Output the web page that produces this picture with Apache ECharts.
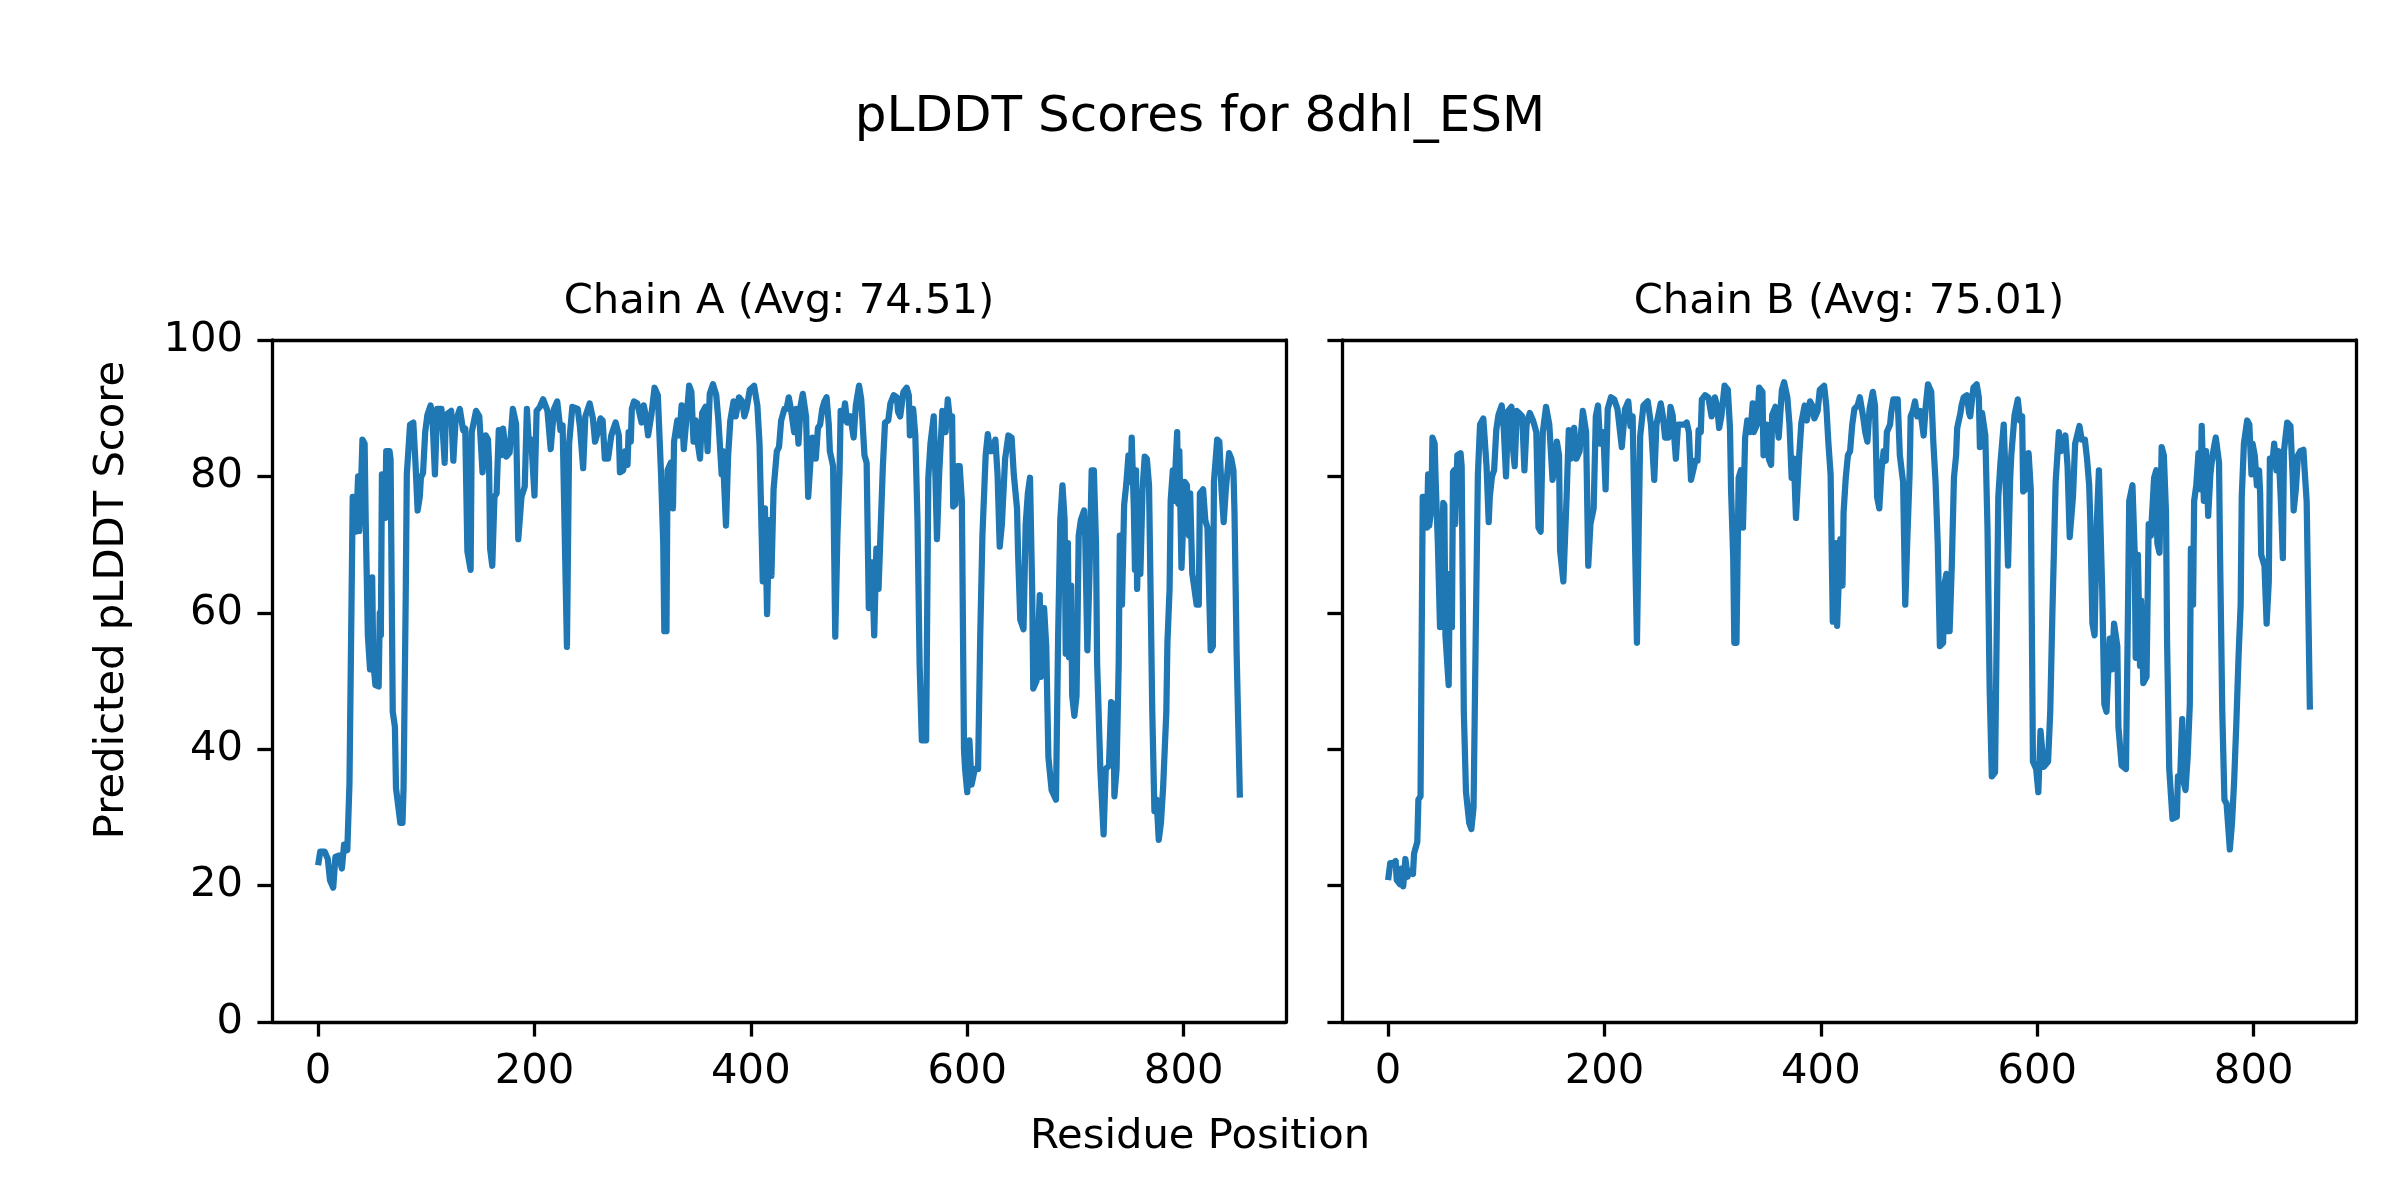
<!DOCTYPE html>
<html>
<head>
<meta charset="utf-8">
<script src="https://cdn.jsdelivr.net/npm/echarts@6/dist/echarts.min.js"></script>
<style>html,body{margin:0;padding:0;background:#fff;}#c{width:2400px;height:1200px;}</style>
</head>
<body>
<div id="c"></div>
<script>
// ---- data ----
const suptitle = "pLDDT Scores for 8dhl_ESM";
const chainNames = ["Chain A", "Chain B"];
const chainAvgs = ["74.51", "75.01"];
const xLabel = "Residue Position";
const yLabel = "Predicted pLDDT Score";
const xTicks = [0, 200, 400, 600, 800];
const yTicks = [0, 20, 40, 60, 80, 100];

const chainAPos = [0,2,6,9,11,14,16,19,22,24,27,29,30,32,34,35,37,38,39,41,43,44,46,48,50,51,53,56,57,58,59,60,62,63,66,67,69,71,72,76,78,79,81,82,85,88,90,92,94,95,97,99,101,104,106,108,110,114,117,118,123,125,127,131,134,136,138,141,142,146,149,152,155,157,158,159,161,163,165,167,169,171,174,177,180,183,185,188,191,193,195,197,200,202,205,208,212,215,218,221,224,226,230,232,235,240,242,245,247,251,254,256,258,261,263,265,268,271,272,275,278,279,282,284,286,287,289,290,292,295,299,301,303,305,308,311,314,317,319,320,322,323,326,328,329,332,334,336,338,340,343,345,347,349,351,353,355,358,360,362,365,368,370,373,374,377,379,381,384,386,389,392,394,396,399,403,406,408,411,413,415,417,419,421,424,426,428,431,433,435,437,440,442,444,446,448,451,453,455,457,460,462,464,466,468,470,472,473,476,478,480,482,483,485,487,489,492,495,497,500,502,505,507,509,512,514,516,518,519,522,524,527,529,532,535,536,538,541,544,546,547,550,552,554,556,558,562,564,566,569,570,572,574,577,580,582,584,586,587,589,591,593,595,597,598,600,602,604,607,610,612,614,617,619,621,623,626,628,630,632,635,638,641,643,646,647,649,652,654,656,658,660,661,664,667,668,671,673,675,678,682,684,686,688,690,691,693,694,696,697,699,701,703,705,708,709,711,713,715,717,719,720,723,726,728,731,733,735,736,738,740,741,743,745,747,749,751,752,754,755,756,757,759,760,762,764,766,768,769,771,773,775,777,779,781,784,785,787,788,790,791,794,795,796,798,801,803,805,806,808,809,812,814,815,818,820,822,825,827,828,831,833,835,837,839,842,844,846,847,849,852];
const chainAScore = [23.0,25.0,25.0,23.9,20.8,19.7,24.2,24.4,22.5,26.0,25.2,35.0,34.8,77.0,77.0,71.9,80.0,72.0,75.0,85.4,84.8,73.6,56.7,51.7,65.2,52.8,49.4,49.2,60.0,56.7,80.3,80.5,73.9,83.7,83.7,82.5,45.5,43.3,34.3,29.2,29.2,34.3,62.4,80.3,87.6,87.9,82.0,75.0,77.0,79.8,80.5,86.5,89.0,90.4,87.5,80.3,89.9,89.9,82.0,89.0,89.6,82.3,88.0,89.9,86.8,87.0,69.0,66.3,86.5,89.6,88.8,80.6,86.0,85.4,82.0,69.4,66.9,77.0,77.5,86.8,83.1,87.0,82.9,83.5,89.9,87.7,70.8,77.0,78.5,89.9,84.3,85.4,77.2,89.6,90.2,91.3,89.6,84.0,89.9,91.0,86.8,87.5,55.0,84.8,90.2,89.9,87.3,81.2,88.8,90.7,88.5,85.1,86.2,88.5,88.2,82.6,82.6,86.0,86.5,87.9,86.0,80.6,80.9,83.7,81.7,86.5,85.1,89.9,91.0,90.7,87.9,90.4,88.8,86.0,89.0,93.0,91.9,80.3,70.2,57.3,57.3,80.9,82.0,75.3,85.1,88.2,86.0,90.4,84.0,87.6,93.3,92.4,85.1,88.2,84.8,82.6,89.3,90.2,83.7,92.1,93.5,91.9,88.2,80.3,83.7,72.8,83.1,88.2,91.0,88.8,91.6,91.0,88.8,89.9,92.7,93.3,90.4,84.8,64.6,75.3,59.8,73.6,65.4,78.1,83.7,84.3,88.2,89.9,89.9,91.6,89.9,86.5,89.9,84.8,90.4,92.1,88.8,77.0,82.0,85.7,82.6,87.1,87.6,89.9,91.0,91.6,87.6,83.7,81.5,56.5,71.3,80.9,89.6,88.2,90.7,87.9,88.8,85.7,90.4,93.3,91.3,83.1,82.0,60.7,67.4,56.7,69.4,63.5,63.5,81.5,87.9,88.2,90.7,91.9,91.6,89.5,88.8,92.4,93.0,91.9,86.0,89.9,86.0,73.6,52.2,41.3,41.3,79.8,84.8,88.8,83.7,70.8,80.3,89.6,86.5,91.3,88.2,88.8,75.6,75.9,81.5,81.5,76.4,39.9,37.1,33.7,41.3,34.8,37.1,37.1,56.7,71.3,83.1,86.2,83.7,83.7,85.4,80.3,69.7,73.0,82.6,86.0,85.7,80.3,75.3,68.5,59.0,57.6,73.0,77.5,79.8,63.5,48.9,50.0,62.6,50.6,60.7,55.1,38.8,34.0,32.6,56.7,73.6,78.7,73.6,54.0,70.2,53.5,64.0,47.8,44.9,47.8,71.3,73.6,75.0,71.3,54.5,66.0,80.9,80.9,70.2,52.8,37.1,27.5,37.1,37.6,46.9,46.6,33.1,37.1,52.8,71.3,61.2,75.8,78.9,83.1,79.2,85.7,75.0,66.3,80.9,63.5,76.4,65.7,78.1,82.9,82.6,78.7,68.0,45.5,30.9,32.6,26.7,29.2,34.3,45.5,55.6,63.5,76.4,80.9,76.4,86.5,76.0,83.7,66.6,79.2,78.7,71.3,77.5,65.7,64.6,61.2,61.2,77.5,78.1,73.6,72.5,54.5,55.1,79.2,85.4,85.1,78.1,73.3,78.1,83.4,82.6,80.9,74.7,53.9,32.9];

const chainBPos = [0,2,5,7,8,11,12,14,16,18,20,23,24,27,28,30,32,34,36,37,38,40,41,43,44,46,48,49,51,52,53,56,57,59,60,61,62,64,67,68,70,72,75,77,79,81,83,85,88,91,93,94,96,98,100,102,105,107,109,111,114,115,117,119,121,124,126,128,131,134,137,139,141,143,146,149,152,154,156,158,159,162,165,167,169,172,174,177,180,183,185,187,190,192,194,196,199,201,203,206,209,212,216,219,222,224,226,230,233,236,240,243,246,248,252,254,256,259,261,263,266,268,271,274,276,278,280,282,284,286,287,289,290,293,296,299,302,304,306,308,311,314,316,317,319,320,322,324,326,328,330,332,335,337,338,341,343,346,347,350,352,354,355,358,361,364,366,369,371,373,375,377,380,382,385,387,390,392,394,397,399,403,405,407,409,411,414,415,418,420,421,423,425,427,429,431,434,436,439,441,443,445,448,450,452,454,456,458,460,461,464,465,467,471,473,476,478,480,482,483,485,487,489,492,495,497,499,502,504,506,508,510,513,514,516,517,519,521,523,525,526,529,530,532,535,537,538,541,544,546,547,549,552,554,556,558,561,564,566,569,570,573,575,576,579,582,584,586,587,589,592,594,596,599,601,603,606,610,612,614,617,620,622,626,628,630,633,635,639,641,644,646,648,649,651,653,655,657,660,662,664,667,669,671,674,675,678,682,684,685,688,690,691,693,695,696,698,701,703,705,708,710,711,713,715,717,719,720,722,725,729,730,732,734,735,737,739,741,742,744,745,747,749,751,752,754,756,758,760,762,765,768,769,771,773,775,778,780,782,784,786,788,789,791,794,796,798,799,801,803,805,806,807,810,812,814,815,817,819,821,823,825,827,828,831,834,836,837,839,841,843,846,847,849,852];
const chainBScore = [20.8,23.3,23.3,23.6,20.8,20.2,22.5,19.9,23.9,21.3,22.2,21.7,24.7,26.4,32.6,33.1,77.0,77.0,72.5,80.3,72.8,75.3,85.7,84.8,79.2,70.2,57.9,57.9,76.1,75.8,56.7,49.4,65.7,57.9,80.6,80.9,73.0,83.1,83.4,81.5,45.5,33.7,29.2,28.3,31.5,56.7,80.3,87.6,88.5,81.5,73.3,77.0,80.0,80.9,86.8,89.0,90.4,86.8,80.0,89.6,90.2,84.8,81.5,89.6,89.3,88.8,80.9,87.6,89.3,88.2,86.5,72.5,71.9,86.5,90.2,87.6,79.5,81.5,85.1,83.1,69.1,64.6,77.0,86.8,82.6,87.1,82.6,83.7,89.6,86.5,66.9,73.0,75.3,88.8,90.4,84.8,86.5,78.1,89.9,91.6,91.3,89.9,84.3,89.9,91.0,87.4,88.8,55.6,85.9,90.4,91.0,87.6,79.5,87.6,90.7,88.8,85.7,85.7,90.2,89.0,82.6,87.6,87.6,87.6,87.9,86.5,79.5,80.9,82.3,82.3,86.8,86.5,91.3,91.9,91.6,88.8,91.6,90.4,87.1,88.8,93.3,92.7,87.1,78.1,68.0,55.6,55.6,79.8,80.9,72.5,85.7,88.2,86.5,90.7,86.5,87.6,93.0,92.4,83.1,87.6,82.5,81.7,89.0,90.2,85.7,92.7,93.8,91.6,87.6,79.8,82.6,73.9,83.1,87.9,90.4,88.2,91.0,90.4,88.5,89.6,92.7,93.3,90.4,84.8,80.3,58.7,70.2,58.1,70.8,64.0,74.7,79.8,83.1,83.7,87.6,89.9,90.4,91.6,88.8,86.5,85.1,89.9,92.4,90.4,77.0,75.3,80.9,83.7,82.3,86.5,87.6,89.3,91.3,91.3,83.1,79.2,61.2,71.3,80.3,88.8,89.6,91.0,88.8,89.6,86.0,90.4,93.5,92.4,84.8,79.2,70.2,55.1,55.6,64.0,65.7,57.3,57.3,66.9,79.8,83.1,87.1,89.3,90.4,91.6,91.9,89.3,88.8,93.0,93.5,91.6,84.3,89.3,86.0,72.5,48.9,36.0,36.6,77.0,82.0,87.6,83.1,66.9,79.8,83.1,89.0,91.3,88.2,88.8,77.8,78.1,83.4,78.1,38.2,37.1,33.7,42.7,37.4,38.2,45.5,60.1,79.2,86.5,83.7,86.0,81.5,71.1,77.0,84.8,87.4,85.4,85.4,82.6,78.7,73.6,58.4,56.7,73.0,80.9,63.5,46.6,45.5,56.2,51.7,58.4,55.1,43.3,37.6,37.1,62.4,76.4,78.7,69.1,53.4,68.5,52.2,61.8,49.7,50.6,73.0,71.3,79.8,80.9,70.2,68.8,84.3,83.1,74.7,55.6,37.1,29.8,30.1,36.0,35.4,44.4,35.4,34.0,38.8,46.6,69.4,61.2,76.4,78.7,83.4,78.1,87.4,76.4,83.7,74.2,80.3,83.1,85.7,82.0,68.0,45.5,32.6,32.0,25.3,29.2,35.4,43.8,53.4,61.2,77.0,84.8,88.2,87.6,80.3,84.8,83.1,78.7,80.9,77.5,68.5,66.9,58.4,64.6,82.6,81.5,84.8,80.9,83.7,77.0,68.0,83.7,87.9,87.4,80.3,75.0,78.1,83.1,83.7,83.9,81.2,76.4,45.8];

// ---- layout / style ----
const FONT = "DejaVu Sans";
const LINE_COLOR = "#1f77b4";
const AX_W = 3.3, TICK_LEN = 14.6, FS = 41.7;
const grids = [
  {left: 272, top: 340, width: 1014, height: 682},
  {left: 1342, top: 340, width: 1014, height: 682}
];
const X_MIN = -42.6, X_MAX = 894.6;

const chart = echarts.init(document.getElementById('c'), null, {renderer: 'canvas', width: 2400, height: 1200});

const lineStyleAxis = {show: true, onZero: false, lineStyle: {color: '#000', width: AX_W}};
const xAxes = [], yAxes = [];
grids.forEach((g, i) => {
  xAxes.push({
    type: 'value', gridIndex: i, position: 'bottom', min: X_MIN, max: X_MAX,
    axisLine: lineStyleAxis,
    axisTick: {show: true, length: TICK_LEN, lineStyle: {color: '#000', width: AX_W}, customValues: xTicks},
    axisLabel: {show: true, margin: 29, fontSize: FS, fontFamily: FONT, color: '#000', customValues: xTicks},
    splitLine: {show: false}
  });
  xAxes.push({
    type: 'value', gridIndex: i, position: 'top', min: X_MIN, max: X_MAX,
    axisLine: lineStyleAxis, axisTick: {show: false}, axisLabel: {show: false}, splitLine: {show: false}
  });
  yAxes.push({
    type: 'value', gridIndex: i, position: 'left', min: 0, max: 100, interval: 20,
    axisLine: lineStyleAxis,
    axisTick: {show: true, length: TICK_LEN, lineStyle: {color: '#000', width: AX_W}},
    axisLabel: {show: i === 0, margin: 29, fontSize: FS, fontFamily: FONT, color: '#000'},
    splitLine: {show: false}
  });
  yAxes.push({
    type: 'value', gridIndex: i, position: 'right', min: 0, max: 100,
    axisLine: lineStyleAxis, axisTick: {show: false}, axisLabel: {show: false}, splitLine: {show: false}
  });
});

const seriesData = [
  chainAPos.map((p, k) => [p, chainAScore[k]]),
  chainBPos.map((p, k) => [p, chainBScore[k]])
];

const series = seriesData.map((d, i) => ({
  type: 'line', xAxisIndex: i * 2, yAxisIndex: i * 2, data: d,
  showSymbol: false, symbol: 'none', animation: false,
  lineStyle: {color: LINE_COLOR, width: 6.25, join: 'round', cap: 'butt'},
  z: 1
}));

const textEl = (x, y, text, size, rot) => ({
  type: 'text', x: x, y: y, rotation: rot || 0, silent: true,
  style: {text: text, fontSize: size, fontFamily: FONT, fill: '#000',
          align: 'center', verticalAlign: 'middle', textAlign: 'center', textVerticalAlign: 'middle'}
});

const graphics = [
  textEl(1200, 118, suptitle, 50),
  textEl(1200, 1137, xLabel, FS),
  textEl(112, 600, yLabel, FS, Math.PI / 2)
];
grids.forEach((g, i) => {
  graphics.push(textEl(g.left + g.width / 2, 302, chainNames[i] + " (Avg: " + chainAvgs[i] + ")", FS));
});

chart.setOption({
  animation: false,
  backgroundColor: '#fff',
  grid: grids.map(g => Object.assign({containLabel: false}, g)),
  xAxis: xAxes,
  yAxis: yAxes,
  series: series,
  graphic: graphics
});
</script>
</body>
</html>
